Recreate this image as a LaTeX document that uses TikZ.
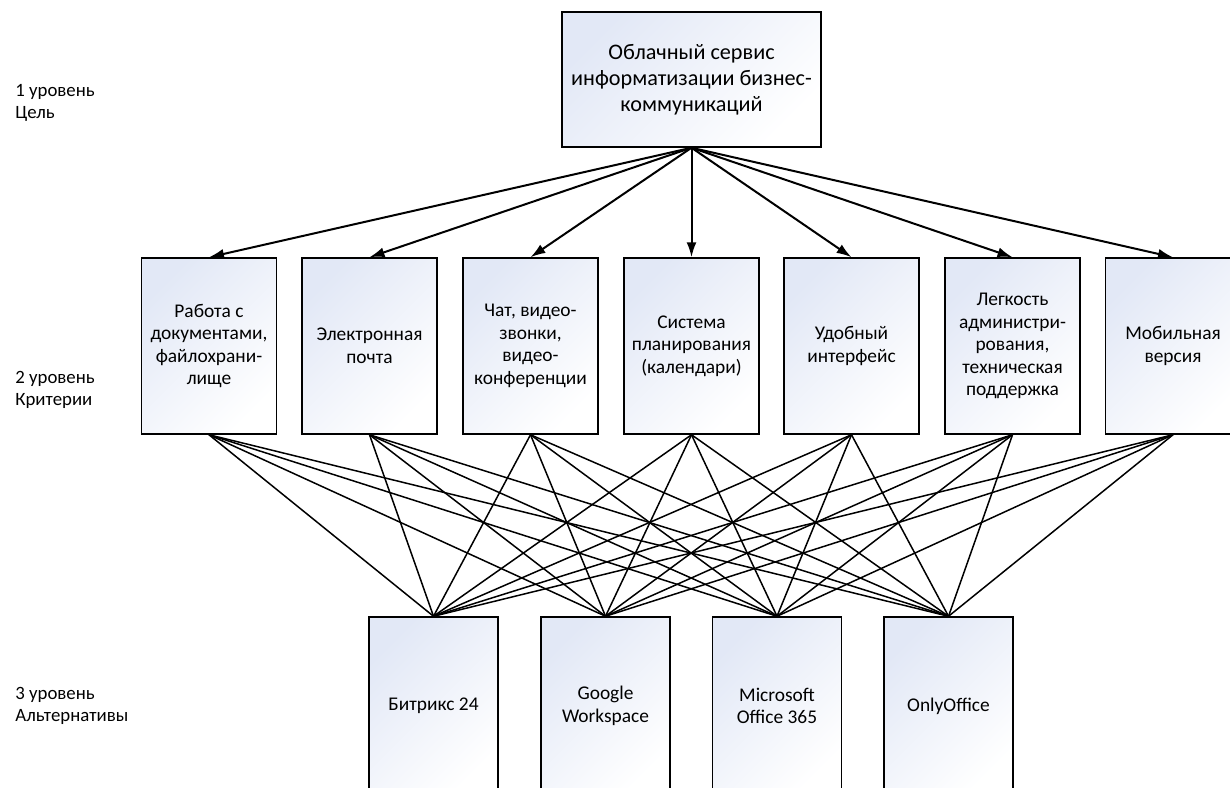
\documentclass[tikz,border=0pt]{standalone}
\usepackage{fontspec}
\setmainfont{Carlito}
\usetikzlibrary{arrows.meta}
\definecolor{boxtint}{RGB}{226,232,246}
\def\critfont{\fontsize{9.7}{11.25}\selectfont}
\def\lvlfont{\fontsize{9.4}{11.25}\selectfont}

\begin{document}
\begin{tikzpicture}[x=0.5pt,y=-0.5pt,
  box/.style={draw=black,line width=0.75pt,top color=boxtint,bottom color=white,
    shading angle=45,align=center,inner sep=0pt},
  goalbox/.style={box,minimum width=129.5pt,minimum height=67.5pt,
    font=\fontsize{11.1}{13}\selectfont},
  critbox/.style={box,minimum width=67.5pt,minimum height=88pt,font=\critfont},
  altbox/.style={box,minimum width=64.5pt,minimum height=89pt,font=\critfont},
  lvl/.style={align=left,anchor=west,inner sep=0pt,font=\lvlfont},
  link/.style={line width=0.75pt},
  arr/.style={line width=1pt,-{Latex[length=7.5pt,width=5pt]}}]
% the page
\clip (0,0) rectangle (1230,787);
% level labels
\node[lvl] (lvl1) at (15,103) {1 уровень\\Цель};
\node[lvl] (lvl2) at (15,390) {2 уровень\\Критерии};
\node[lvl] (lvl3) at (15,706) {3 уровень\\Альтернативы};
% the goal
\node[goalbox] (goal) at (691.5,79.5)
  {Облачный сервис\\информатизации бизнес-\\коммуникаций};
% the criteria
\node[critbox] (crit1) at (209,346) {Работа с\\документами,\\файлохрани-\\лище};
\node[critbox] (crit2) at (369.5,346) {Электронная\\почта};
\node[critbox] (crit3) at (530.5,346) {Чат, видео-\\звонки,\\видео-\\конференции};
\node[critbox] (crit4) at (691.5,346) {Система\\планирования\\(календари)};
\node[critbox] (crit5) at (851.5,346) {Удобный\\интерфейс};
\node[critbox] (crit6) at (1012.5,346)
  {Легкость\\администри-\\рования,\\техническая\\поддержка};
\node[critbox] (crit7) at (1173,346) {Мобильная\\версия};
% the alternatives
\node[altbox] (alt1) at (433.5,706) {Битрикс 24};
\node[altbox] (alt2) at (605.5,706) {Google\\Workspace};
\node[altbox] (alt3) at (777,706) {Microsoft\\Office 365};
\node[altbox] (alt4) at (948.5,706) {OnlyOffice};
% goal to criteria
\foreach \c in {1,...,7}
  \draw[arr] (goal.south) -- (crit\c.north);
% criteria to alternatives
\foreach \c in {1,...,7}
  \foreach \a in {1,...,4}
    \draw[link] (crit\c.south) -- (alt\a.north);
\end{tikzpicture}
\end{document}
